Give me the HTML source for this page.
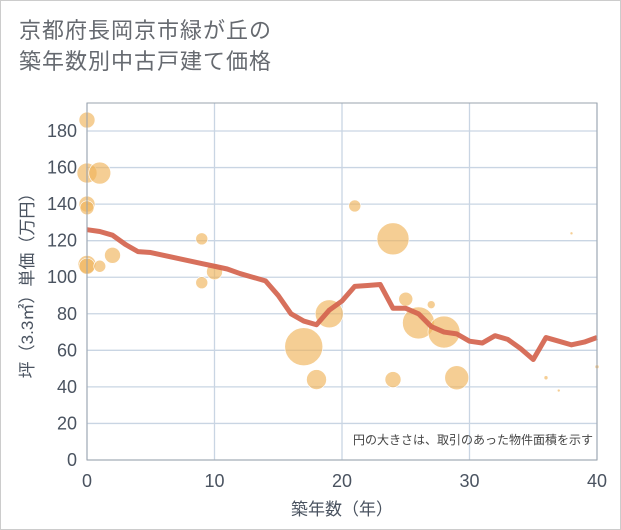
<!DOCTYPE html>
<html><head><meta charset="utf-8"><style>
body{margin:0;background:#fff;}
#wrap{position:relative;width:619px;height:528px;border:1px solid #ccc;background:#fff;font-family:"Liberation Sans","Noto Sans CJK JP",sans-serif;}
#title{position:absolute;left:18px;top:14px;font-size:22px;line-height:31px;color:#666a70;letter-spacing:1px;}
</style></head><body>
<div id="wrap">
<div id="title">京都府長岡京市緑が丘の<br>築年数別中古戸建て価格</div>
<svg id="chart" width="621" height="530" style="position:absolute;left:-1px;top:-1px"></svg>
</div>
<script>
const xTicks=[0,10,20,30,40];
const yTicks=[0,20,40,60,80,100,120,140,160,180];
const lineYears=[0,1,2,3,4,5,6,7,8,9,10,11,12,13,14,15,16,17,18,19,20,21,22,23,24,25,26,27,28,29,30,31,32,33,34,35,36,37,38,39,40];
const lineValues=[126,125,123,118,114,113.5,112,110.5,109,107.5,106,104.5,102,100,98,90,80,76,74,82,87,95,95.5,96,83,83,80,73,70,69,65,64,68,66,61,55,67,65,63,64.5,67];
const bubbleYears=[0,0,1,0,0,0,0,1,2,9,9,10,17,18,19,21,24,24,25,26,27,28,29,36,37,38,40];
const bubbleValues=[186,157,157,140,138,107,106,106,112,121,97,103,62,44,80,139,121,44,88,75,85,70,45,45,38,124,51];
const bubbleSizes=[8,10,11,8,7,9,8,6,8,6,6,8,19,10,14,6,16,8,7,16,4,16,12,2,1.5,1.5,2];
const NS="http://www.w3.org/2000/svg";
const svg=document.getElementById('chart');
const X0=87,X1=597,Y0=460,Y1=131;
const xs=v=>X0+(v-0)/40*(X1-X0);
const ys=v=>Y0-(v/180)*(Y0-Y1);
function mk(t,a){const e=document.createElementNS(NS,t);for(const k in a)e.setAttribute(k,a[k]);svg.appendChild(e);return e;}
yTicks.forEach(t=>{
 const l=mk('line',{x1:X0,x2:X1,y1:ys(t),y2:ys(t),stroke:'#c9d5e3','stroke-width':1.3});
 
 
 const tx=mk('text',{x:X0-10,y:ys(t)+6,'text-anchor':'end','font-size':18,fill:'#4a5360'});tx.textContent=t;
 
 
});
xTicks.forEach(t=>{
 const l=mk('line',{x1:xs(t),x2:xs(t),y1:103,y2:Y0,stroke:'#c9d5e3','stroke-width':1.3});
 
 
 const tx=mk('text',{x:xs(t),y:487,'text-anchor':'middle','font-size':18,fill:'#4a5360'});tx.textContent=t;
 
 
});
const g=mk('g',{});
bubbleYears.forEach((yr,i)=>{
 const c=document.createElementNS(NS,'circle');
 c.setAttribute('cx',xs(yr));c.setAttribute('cy',ys(bubbleValues[i]));c.setAttribute('r',bubbleSizes[i]);
 c.setAttribute('fill','rgba(240,180,90,0.65)');c.setAttribute('stroke','#fff');c.setAttribute('stroke-width',0.6);
 
 
 g.appendChild(c);
});
const pts=lineYears.map((y,i)=>xs(y)+','+ys(lineValues[i])).join(' ');
const pl=document.createElementNS(NS,'polyline');
pl.setAttribute('points',pts);pl.setAttribute('fill','none');pl.setAttribute('stroke','#d4644e');pl.setAttribute('stroke-width',5);pl.setAttribute('stroke-linejoin','round');pl.setAttribute('opacity',0.92);


g.appendChild(pl);
const frame=mk('rect',{x:X0,y:103,width:X1-X0,height:Y0-103,fill:'none',stroke:'#9aa3ad','stroke-width':1});


const note=mk('text',{x:X1-4,y:444,'text-anchor':'end','font-size':12,fill:'#444'});note.textContent='円の大きさは、取引のあった物件面積を示す';


const xt=mk('text',{x:(X0+X1)/2,y:515,'text-anchor':'middle','font-size':17,fill:'#4a5360'});xt.textContent='築年数（年）';


const yt=mk('text',{x:0,y:0,'text-anchor':'middle','font-size':17,fill:'#4a5360',transform:'translate(33,'+((103+Y0)/2)+') rotate(-90)'});yt.textContent='坪（3.3㎡）単価（万円）';


</script>
</body></html>
